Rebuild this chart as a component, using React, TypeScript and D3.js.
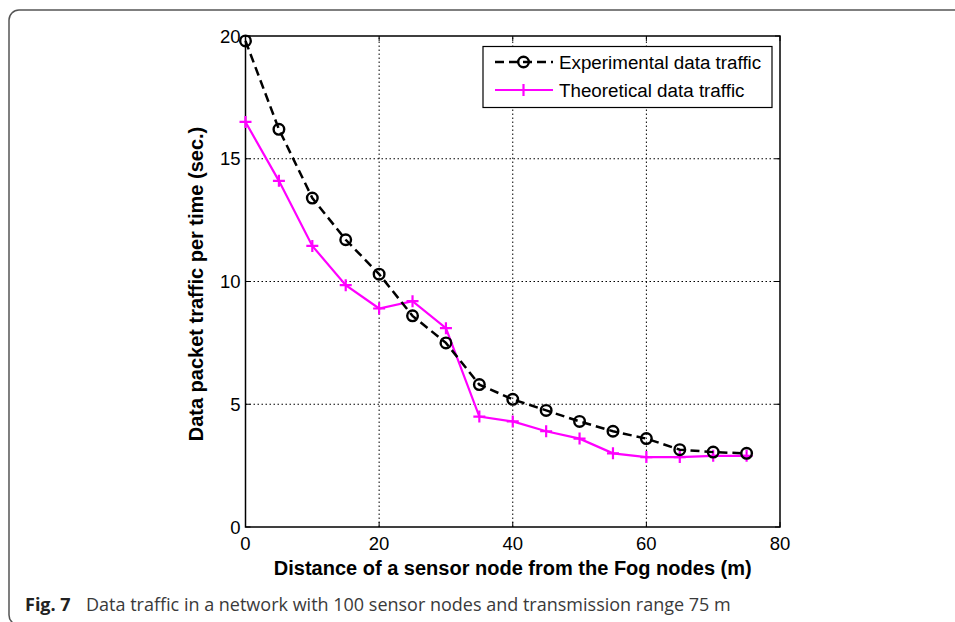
import React from 'react';
import * as d3 from 'd3';

const distances = [0, 5, 10, 15, 20, 25, 30, 35, 40, 45, 50, 55, 60, 65, 70, 75];
const experimental = [19.8, 16.2, 13.4, 11.7, 10.3, 8.6, 7.5, 5.8, 5.2, 4.75, 4.3, 3.9, 3.6, 3.15, 3.05, 3.0];
const theoretical = [16.5, 14.1, 11.45, 9.85, 8.9, 9.2, 8.1, 4.5, 4.3, 3.9, 3.6, 3.0, 2.85, 2.85, 2.9, 2.9];
const xTicks = [0, 20, 40, 60, 80];
const yTicks = [0, 5, 10, 15, 20];

const W = 955;
const H = 622;
const margin = { top: 36, right: 175, bottom: 95, left: 245.5 };
const font = 'Arial, "Liberation Sans", sans-serif';

const App = () => {
  // Scales
  const x = d3.scaleLinear().domain([0, 80]).range([margin.left, W - margin.right]);
  const y = d3.scaleLinear().domain([0, 20]).range([H - margin.bottom, margin.top]);

  const line = d3.line<number>()
    .x((_, i) => x(distances[i]))
    .y(d => y(d));

  const x0 = x(0), x1 = x(80), y0 = y(0), y1 = y(20);

  return (
    <svg width={W} height={H} style={{ position: 'absolute', left: 0, top: 0 }}>
      {/* outer frame */}
      <rect x={9} y={10} width={1000} height={615} rx={10} fill="none" stroke="#555" strokeWidth={1.5} />

      {/* grid */}
      {xTicks.slice(1, -1).map(t => (
        <line key={'gx' + t} x1={x(t)} x2={x(t)} y1={y0} y2={y1} stroke="#000" strokeWidth={1} strokeDasharray="1.5,2.5" />
      ))}
      {yTicks.slice(1, -1).map(t => (
        <line key={'gy' + t} x1={x0} x2={x1} y1={y(t)} y2={y(t)} stroke="#000" strokeWidth={1} strokeDasharray="1.5,2.5" />
      ))}

      {/* axes box */}
      <rect x={x0} y={y1} width={x1 - x0} height={y0 - y1} fill="none" stroke="#000" strokeWidth={1.5} />
      {xTicks.map(t => (
        <g key={'tx' + t}>
          <line x1={x(t)} x2={x(t)} y1={y0} y2={y0 - 5} stroke="#000" />
          <line x1={x(t)} x2={x(t)} y1={y1} y2={y1 + 5} stroke="#000" />
          <text x={x(t)} y={y0 + 23} textAnchor="middle" fontFamily={font} fontSize={18.5}>{t}</text>
        </g>
      ))}
      {yTicks.map(t => (
        <g key={'ty' + t}>
          <line x1={x0} x2={x0 + 5} y1={y(t)} y2={y(t)} stroke="#000" />
          <line x1={x1} x2={x1 - 5} y1={y(t)} y2={y(t)} stroke="#000" />
          <text x={x0 - 5} y={y(t) + 6.5} textAnchor="end" fontFamily={font} fontSize={18.5}>{t}</text>
        </g>
      ))}

      {/* axis labels */}
      <text x={(x0 + x1) / 2} y={575} textAnchor="middle" fontFamily={font} fontSize={20} fontWeight="bold">
        Distance of a sensor node from the Fog nodes (m)
      </text>
      <text transform="translate(203,284) rotate(-90)" textAnchor="middle" fontFamily={font} fontSize={20} fontWeight="bold">
        Data packet traffic per time (sec.)
      </text>

      {/* theoretical */}
      <path d={line(theoretical) || ''} fill="none" stroke="#ff00ff" strokeWidth={2.2} />
      {theoretical.map((v, i) => (
        <path key={'p' + i} d={`M${x(distances[i]) - 6},${y(v)}h12M${x(distances[i])},${y(v) - 6}v12`} stroke="#ff00ff" strokeWidth={2.2} />
      ))}

      {/* experimental */}
      <path d={line(experimental) || ''} fill="none" stroke="#000" strokeWidth={2.5} strokeDasharray="9,5" />
      {experimental.map((v, i) => (
        <circle key={'c' + i} cx={x(distances[i])} cy={y(v)} r={5.3} fill="none" stroke="#000" strokeWidth={2.4} />
      ))}

      {/* legend */}
      <g>
        <rect x={483} y={46.5} width={289} height={61} fill="#fff" stroke="#000" strokeWidth={1.2} />
        <line x1={495} x2={553} y1={62} y2={62} stroke="#000" strokeWidth={2.5} strokeDasharray="9,5" />
        <circle cx={523.5} cy={62} r={5.3} fill="none" stroke="#000" strokeWidth={2.4} />
        <text x={559} y={68.5} fontFamily={font} fontSize={18.8}>Experimental data traffic</text>
        <line x1={495} x2={553} y1={90} y2={90} stroke="#ff00ff" strokeWidth={2.2} />
        <path d="M523.5,84v12" stroke="#ff00ff" strokeWidth={2.2} />
        <text x={559} y={96.5} fontFamily={font} fontSize={18.8}>Theoretical data traffic</text>
      </g>

      {/* caption */}
      <text x={25} y={611} fontFamily='"Open Sans", "Noto Sans", sans-serif' fontSize={18} fontWeight="bold" fill="#222">Fig. 7</text>
      <text x={86} y={611} fontFamily='"Open Sans", "Noto Sans", sans-serif' fontSize={18} fill="#3a3a3a">
        Data traffic in a network with 100 sensor nodes and transmission range 75 m
      </text>
    </svg>
  );
};

export default App;
